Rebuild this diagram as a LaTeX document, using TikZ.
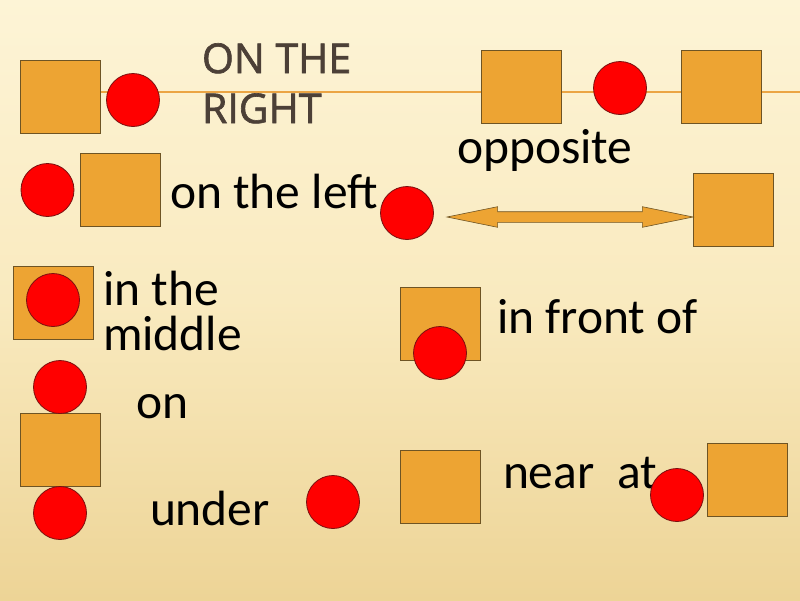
\documentclass[tikz,border=0pt]{standalone}
\usepackage{fontspec}
\setmainfont{Carlito}
\newfontfamily\headfont[FakeBold=1.6]{Open Sans}
\usepackage{tikz}
\usetikzlibrary{shapes.arrows, positioning}

\definecolor{paperTop}{HTML}{FDF4D6}
\definecolor{paperMid}{HTML}{F9EABF}
\definecolor{paperLow}{HTML}{EDD496}
\definecolor{boxfill}{HTML}{EDA433}
\definecolor{boxline}{HTML}{6E5424}
\definecolor{ballline}{HTML}{7A1010}
\definecolor{railcol}{HTML}{EBA544}
\definecolor{titlecol}{HTML}{4C4037}

\begin{document}
\begin{tikzpicture}[
        x=1pt, y=-1pt,
        outer sep=0pt,
        box/.style={rectangle, draw=boxline, fill=boxfill, line width=0.8pt,
          minimum width=80pt, minimum height=73pt, inner sep=0pt},
        ball/.style={circle, draw=ballline, fill=red, line width=0.8pt,
          minimum size=53pt, inner sep=0pt},
        word/.style={font=\fontsize{49.5}{45}\selectfont, inner sep=0pt,
          anchor=base west, align=left},
        heading/.style={font=\headfont\fontsize{41}{50}\selectfont, text=titlecol,
          inner sep=0pt, anchor=base west, align=left},
        twoway/.style={double arrow, draw=boxline, fill=boxfill, line width=0.6pt,
          double arrow head extend=5pt, double arrow tip angle=23, inner sep=0pt},
    ]
        % slide background
        \fill[top color=paperTop, bottom color=paperLow, middle color=paperMid]
          (0,0) rectangle (800,600);
        \useasboundingbox (0,0) rectangle (800,600);

        \coordinate (railL) at (100,92);
        \coordinate (railR) at (800,92);
        \draw[railcol, line width=1.2pt] (railL) -- (railR);

        % on the right
        \node[box] (sqA) at (60,96.5) {};
        \node[ball] (ballA) at (133,100) {};
        \node[heading] (title) at (202,123) {ON THE\\RIGHT};

        % between, on the top line
        \node[box] (sqB) at (521.5,86.5) {};
        \node[ball] (ballB) at (620,88) {};
        \node[box] (sqC) at (721.5,86.5) {};

        % on the left
        \node[box] (sqD) at (120,190) {};
        \node[ball, left=6pt of sqD] (ballD) {};
        \node[word] (left) at (170,208) {on the left};

        % opposite
        \node[word] (opp) at (457,163) {opposite};
        \node[ball] (ballE) at (407,213) {};
        \node[box] (sqE) at (733,210) {};
        \node[twoway, minimum height=246pt] (arrow) at (570,217) {\rule{0pt}{10pt}};

        % in the middle
        \node[box] (sqF) at (53,302.5) {};
        \node[ball] (ballF) at (53,300) {};
        \node[word] (middle) at (103,350) {in the\\middle};

        % in front of
        \node[box] (sqG) at (440,323.5) {};
        \node[ball] (ballG) at (440,353) {};
        \node[word] (front) at (497,333) {in front of};

        % on / under
        \node[box] (sqH) at (60,450) {};
        \node[ball, above=0pt of sqH] (ballH) {};
        \node[ball, below=0pt of sqH] (ballI) {};
        \node[word] (on) at (136,418) {on};
        \node[word] (under) at (150,525) {under};
        \node[ball] (ballJ) at (333,502) {};

        % near, at
        \node[box] (sqK) at (440,486.5) {};
        \node[word] (near) at (503,488) {near\ \ at};
        \node[ball] (ballK) at (677,495) {};
        \node[box] (sqL) at (747,480) {};
    \end{tikzpicture}
\end{document}
